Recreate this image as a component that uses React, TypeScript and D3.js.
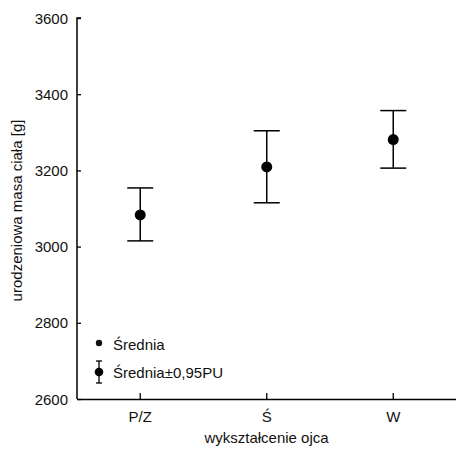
import { useEffect, useRef } from "react";
import * as d3 from "d3";

const categories = ["P/Z", "Ś", "W"];
const means = [3083, 3209, 3281];
const lower = [3015, 3115, 3206];
const upper = [3154, 3304, 3357];
const yTicks = [2600, 2800, 3000, 3200, 3400, 3600];

export default function App() {
  const ref = useRef<SVGSVGElement>(null);

  useEffect(() => {
    const width = 456;
    const height = 455;
    const margin = { top: 18, right: 0, bottom: 56, left: 77 };
    const svg = d3.select(ref.current);
    svg.selectAll("*").remove();
    const font = "Liberation Sans, Arial, sans-serif";
    const fs = 15;

    const x = d3.scaleBand()
      .domain(categories)
      .range([margin.left, width + 0.5])
      .padding(0);
    const y = d3.scaleLinear()
      .domain([2600, 3600])
      .range([height - margin.bottom, margin.top]);

    // axes
    const yAxis = svg.append("g")
      .attr("transform", `translate(${margin.left},0)`)
      .call(d3.axisRight(y).tickValues(yTicks).tickSize(4).tickFormat(() => ""));
    yAxis.select(".domain").attr("d", `M4,${y(3600)}H0V${y(2600)}`);
    yAxis.selectAll("line").attr("stroke", "#000").attr("stroke-width", 1.3);
    yAxis.selectAll(".domain").attr("stroke", "#000").attr("stroke-width", 1.5);

    svg.append("g")
      .selectAll("text")
      .data(yTicks)
      .enter()
      .append("text")
      .attr("x", 68)
      .attr("y", d => y(d) + 5.5)
      .attr("text-anchor", "end")
      .attr("font-family", font)
      .attr("font-size", fs)
      .attr("fill", "#111")
      .text(d => d);

    const xAxis = svg.append("g")
      .attr("transform", `translate(0,${y(2600)})`)
      .call(d3.axisTop(x).tickSize(6).tickSizeOuter(0).tickFormat(() => ""));
    xAxis.select(".domain").attr("stroke", "#000").attr("stroke-width", 1.5);
    xAxis.selectAll("line").attr("stroke", "#000").attr("stroke-width", 1.3);

    svg.append("g")
      .selectAll("text")
      .data(categories)
      .enter()
      .append("text")
      .attr("x", d => x(d)! + x.bandwidth() / 2)
      .attr("y", y(2600) + 23)
      .attr("text-anchor", "middle")
      .attr("font-family", font)
      .attr("font-size", fs)
      .attr("fill", "#111")
      .text(d => d);

    // axis titles
    svg.append("text")
      .attr("x", (margin.left + width) / 2)
      .attr("y", 443)
      .attr("text-anchor", "middle")
      .attr("font-family", font)
      .attr("font-size", fs)
      .attr("fill", "#111")
      .text("wykształcenie ojca");

    svg.append("text")
      .attr("transform", `translate(22,${(y(2600) + y(3600)) / 2 + 2}) rotate(-90)`)
      .attr("text-anchor", "middle")
      .attr("font-family", font)
      .attr("font-size", fs)
      .attr("fill", "#111")
      .text("urodzeniowa masa ciała [g]");

    // error bars
    const cx = (i: number) => x(categories[i])! + x.bandwidth() / 2;
    const g = svg.append("g").attr("stroke", "#000").attr("stroke-width", 1.5);
    categories.forEach((c, i) => {
      g.append("line").attr("x1", cx(i)).attr("x2", cx(i)).attr("y1", y(lower[i])).attr("y2", y(upper[i]));
      g.append("line").attr("x1", cx(i) - 13).attr("x2", cx(i) + 13).attr("y1", y(lower[i])).attr("y2", y(lower[i]));
      g.append("line").attr("x1", cx(i) - 13).attr("x2", cx(i) + 13).attr("y1", y(upper[i])).attr("y2", y(upper[i]));
    });
    svg.append("g")
      .selectAll("circle")
      .data(means)
      .enter()
      .append("circle")
      .attr("cx", (d, i) => cx(i))
      .attr("cy", d => y(d))
      .attr("r", 5.5)
      .attr("fill", "#000");

    // legend
    const lg = svg.append("g");
    lg.append("circle").attr("cx", 99).attr("cy", 343).attr("r", 3.2).attr("fill", "#111");
    lg.append("text").attr("x", 113).attr("y", 350).attr("font-family", font).attr("font-size", fs).attr("fill", "#111").text("Średnia");
    lg.append("line").attr("x1", 99).attr("x2", 99).attr("y1", 361).attr("y2", 383).attr("stroke", "#000").attr("stroke-width", 1.3);
    lg.append("line").attr("x1", 96).attr("x2", 102).attr("y1", 361).attr("y2", 361).attr("stroke", "#000").attr("stroke-width", 1.3);
    lg.append("line").attr("x1", 96).attr("x2", 102).attr("y1", 383).attr("y2", 383).attr("stroke", "#000").attr("stroke-width", 1.3);
    lg.append("circle").attr("cx", 99).attr("cy", 372).attr("r", 4.3).attr("fill", "#000");
    lg.append("text").attr("x", 113).attr("y", 378).attr("font-family", font).attr("font-size", fs).attr("fill", "#111").text("Średnia±0,95PU");
  }, []);

  return (
    <svg
      ref={ref}
      width={456}
      height={455}
      style={{ position: "absolute", left: 0, top: 0, background: "#fff" }}
    />
  );
}
